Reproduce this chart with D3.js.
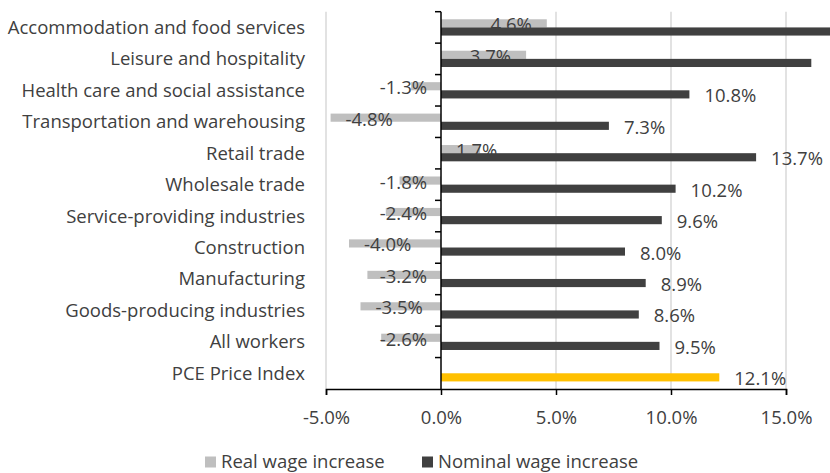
<!DOCTYPE html>
<html>
<head>
<meta charset="utf-8">
<script src="https://cdn.jsdelivr.net/npm/d3@7"></script>
<style>
    body { margin: 0; background: #fff; }
    svg { display: block; font-family: "Open Sans", Lato, sans-serif; }
    .gridLines { stroke: #d9d9d9; stroke-width: 1.5; }
    .axisLine { stroke: #000; stroke-width: 1.5; fill: none; }
    text { fill: #404040; }
</style>
</head>
<body>
<script>
//chart data
var categories = ["Accommodation and food services", "Leisure and hospitality",
    "Health care and social assistance", "Transportation and warehousing",
    "Retail trade", "Wholesale trade", "Service-providing industries",
    "Construction", "Manufacturing", "Goods-producing industries",
    "All workers", "PCE Price Index"];
var realWage = [4.6, 3.7, -1.3, -4.8, 1.7, -1.8, -2.4, -4.0, -3.2, -3.5, -2.6, null];
var nominalWage = [17.3, 16.1, 10.8, 7.3, 13.7, 10.2, 9.6, 8.0, 8.9, 8.6, 9.5, 12.1];
var xTicks = [-5, 0, 5, 10, 15];
var seriesNames = ["Real wage increase", "Nominal wage increase"];

window.onload = drawChart();

function drawChart(){
    var width = 830,
        height = 473,
        fontSize = "18.5px";

    var svg = d3.select("body")
        .append("svg")
        .attr("width", width)
        .attr("height", height);

    //scales
    var x = d3.scaleLinear()
        .domain([-5, 15])
        .range([326, 786]);

    var y = d3.scaleBand()
        .domain(categories)
        .range([11.7, 389]);

    var sub = d3.scaleBand()
        .domain(["real", "nominal"])
        .range([0, y.bandwidth()])
        .paddingOuter(0.93);

    var colors = {real: "#bfbfbf", nominal: "#404040", pce: "#ffc000"};

    //vertical gridlines
    svg.selectAll(".gridLines")
        .data(xTicks.filter(function(d){ return d !== 0; }))
        .enter()
        .append("line")
        .attr("class", "gridLines")
        .attr("x1", function(d){ return x(d); })
        .attr("x2", function(d){ return x(d); })
        .attr("y1", y.range()[0])
        .attr("y2", y.range()[1]);

    //build rows from the arrays
    var rows = categories.map(function(c, i){
        return {cat: c, real: realWage[i], nominal: nominalWage[i]};
    });

    //real wage bars
    svg.selectAll(".realBar")
        .data(rows.filter(function(d){ return d.real !== null; }))
        .enter()
        .append("rect")
        .attr("class", "realBar")
        .attr("x", function(d){ return x(Math.min(0, d.real)); })
        .attr("width", function(d){ return Math.abs(x(d.real) - x(0)); })
        .attr("y", function(d){ return y(d.cat) + sub("real"); })
        .attr("height", sub.bandwidth())
        .attr("fill", colors.real);

    //nominal wage bars (the price index uses its own colour)
    svg.selectAll(".nominalBar")
        .data(rows)
        .enter()
        .append("rect")
        .attr("class", "nominalBar")
        .attr("x", function(d){ return x(Math.min(0, d.nominal)); })
        .attr("width", function(d){ return Math.abs(x(d.nominal) - x(0)); })
        .attr("y", function(d){ return y(d.cat) + sub("nominal"); })
        .attr("height", sub.bandwidth())
        .attr("fill", function(d){ return d.cat === "PCE Price Index" ? colors.pce : colors.nominal; });

    //category axis on the zero line
    var yAxis = svg.append("g");
    yAxis.append("line")
        .attr("class", "axisLine")
        .attr("x1", x(0)).attr("x2", x(0))
        .attr("y1", y.range()[0]).attr("y2", y.range()[1]);
    yAxis.selectAll(".yTick")
        .data(categories)
        .enter()
        .append("line")
        .attr("class", "axisLine")
        .attr("x1", x(0) - 6).attr("x2", x(0))
        .attr("y1", function(d){ return y(d); })
        .attr("y2", function(d){ return y(d); });

    //category labels
    svg.selectAll(".catLabel")
        .data(categories)
        .enter()
        .append("text")
        .attr("class", "catLabel")
        .attr("x", 305)
        .attr("y", function(d){ return y(d) + y.bandwidth() / 2; })
        .attr("dy", "0.35em")
        .attr("text-anchor", "end")
        .style("font-size", fontSize)
        .text(function(d){ return d; });

    //value axis at the bottom
    var xAxis = svg.append("g")
        .attr("transform", "translate(0," + y.range()[1] + ")")
        .call(d3.axisBottom(x)
            .tickValues(xTicks)
            .tickSize(6)
            .tickPadding(16)
            .tickFormat(function(d){ return d.toFixed(1) + "%"; }));
    xAxis.select(".domain").attr("stroke", "#000").attr("stroke-width", 1.5);
    xAxis.selectAll(".tick line").attr("stroke", "#000").attr("stroke-width", 1.5);
    xAxis.selectAll(".tick text")
        .style("font-family", "'Open Sans', sans-serif")
        .style("font-size", fontSize)
        .attr("fill", "#404040");

    var fmt = function(v){ return v.toFixed(1) + "%"; };

    //real wage labels, placed inside the bar and kept off the zero line
    svg.selectAll(".realLabel")
        .data(rows.filter(function(d){ return d.real !== null; }))
        .enter()
        .append("text")
        .attr("class", "realLabel")
        .style("font-size", fontSize)
        .attr("y", function(d){ return y(d.cat) + sub("real") + sub.bandwidth() / 2 + 1.5; })
        .attr("dy", "0.35em")
        .text(function(d){ return fmt(d.real); })
        .each(function(d){
            var w = this.getComputedTextLength(),
                left;
            if (d.real >= 0){
                left = Math.max(x(d.real) - 15 - w, x(0) + 15);
            } else {
                left = Math.min(x(d.real) + 15, x(0) - 14 - w);
            }
            d3.select(this).attr("x", left);
        });

    //nominal wage labels, outside the bar end
    svg.selectAll(".nominalLabel")
        .data(rows)
        .enter()
        .append("text")
        .attr("class", "nominalLabel")
        .style("font-size", fontSize)
        .attr("x", function(d){ return x(d.nominal) + 15; })
        .attr("y", function(d){ return y(d.cat) + sub("nominal") + sub.bandwidth() / 2 + 1.5; })
        .attr("dy", "0.35em")
        .text(function(d){ return fmt(d.nominal); })
        .each(function(){
            //drop labels that would run past the frame
            if (+d3.select(this).attr("x") + this.getComputedTextLength() > width) d3.select(this).remove();
        });

    //legend
    var legendX = [205, 422];
    var legend = svg.selectAll(".legend")
        .data(seriesNames)
        .enter()
        .append("g")
        .attr("class", "legend")
        .attr("transform", function(d, i){ return "translate(" + legendX[i] + ",462)"; });
    legend.append("rect")
        .attr("x", 0).attr("y", -5.5)
        .attr("width", 11).attr("height", 11)
        .attr("fill", function(d, i){ return i === 0 ? colors.real : colors.nominal; });
    legend.append("text")
        .attr("x", 16)
        .attr("dy", "0.35em")
        .style("font-size", fontSize)
        .text(function(d){ return d; });
};
</script>
</body>
</html>
